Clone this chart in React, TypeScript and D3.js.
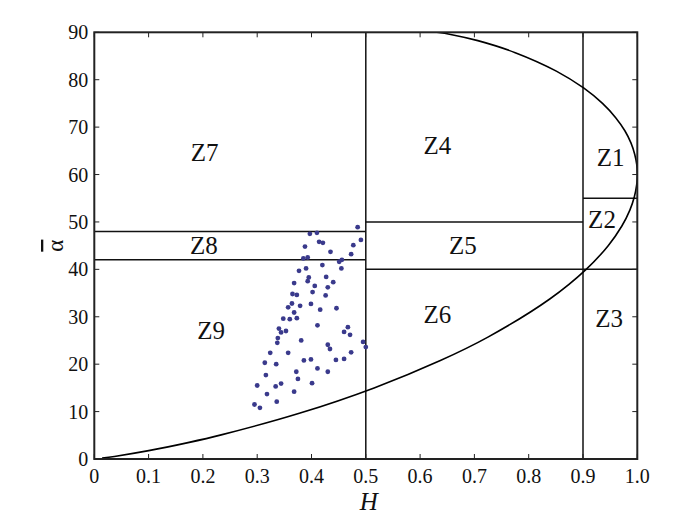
import React from "react";
import * as d3 from "d3";

const xTicks = [0, 0.1, 0.2, 0.3, 0.4, 0.5, 0.6, 0.7, 0.8, 0.9, 1.0];
const xTickLabels = ["0", "0.1", "0.2", "0.3", "0.4", "0.5", "0.6", "0.7", "0.8", "0.9", "1.0"];
const yTicks = [0, 10, 20, 30, 40, 50, 60, 70, 80, 90];

// feasible-region boundary (H, alpha)
const boundary: [number, number][] = [
  [0.0144, 0.18], [0.0371, 0.54], [0.1002, 1.76], [0.1727, 3.46], [0.2337, 5.09],
  [0.3776, 9.64], [0.5153, 15.0], [0.6373, 20.77], [0.7249, 25.71], [0.8388, 33.75],
  [0.9058, 40.0], [0.9464, 45.0], [0.9713, 49.09], [0.9863, 52.5], [0.9947, 55.38],
  [0.9989, 57.86], [0.9997, 58.97], [1.0, 60], [0.999, 62.07], [0.9952, 64.29],
  [0.9883, 66.67], [0.9771, 69.23], [0.9602, 72], [0.9359, 75], [0.9011, 78.26],
  [0.8509, 81.82], [0.7752, 85.71], [0.7063, 88.24], [0.6563, 89.55], [0.6309, 90],
];

// zone boundaries: [x1, y1, x2, y2]
const zoneLines: [number, number, number, number][] = [
  [0.5, 0, 0.5, 90],
  [0.9, 0, 0.9, 90],
  [0, 48, 0.5, 48],
  [0, 42, 0.5, 42],
  [0.5, 50, 0.9, 50],
  [0.5, 40, 1.0, 40],
  [0.9, 55, 1.0, 55],
];

const zoneNames = ["Z1", "Z2", "Z3", "Z4", "Z5", "Z6", "Z7", "Z8", "Z9"];
const zoneH = [0.951, 0.935, 0.948, 0.632, 0.679, 0.632, 0.203, 0.202, 0.215];
const zoneA = [61.8, 48.7, 27.9, 64.3, 43.2, 28.7, 62.9, 43.2, 25.3];

const pointsH = [
  0.485, 0.397, 0.410, 0.491, 0.414, 0.421, 0.388, 0.477, 0.435, 0.473,
  0.385, 0.393, 0.456, 0.451, 0.420, 0.390, 0.455, 0.377, 0.427, 0.395,
  0.393, 0.440, 0.368, 0.406, 0.430, 0.402, 0.365, 0.373, 0.426, 0.364,
  0.399, 0.379, 0.357, 0.446, 0.416, 0.368, 0.348, 0.360, 0.373, 0.411,
  0.467, 0.340, 0.344, 0.353, 0.460, 0.471, 0.338, 0.337, 0.381, 0.495,
  0.500, 0.430, 0.434, 0.324, 0.357, 0.473, 0.314, 0.335, 0.386, 0.399,
  0.445, 0.460, 0.411, 0.372, 0.430, 0.316, 0.375, 0.300, 0.334, 0.344,
  0.401, 0.368, 0.318, 0.336, 0.295, 0.305,
];
const pointsA = [
  48.9, 47.5, 47.7, 46.2, 45.8, 45.6, 44.8, 45.1, 43.7, 43.2,
  42.3, 42.5, 42.0, 41.6, 40.9, 40.2, 40.2, 39.7, 38.4, 38.3,
  37.5, 37.3, 37.1, 36.5, 36.2, 35.2, 34.8, 34.6, 34.5, 32.8,
  32.7, 32.3, 32.0, 31.8, 31.5, 30.9, 29.6, 29.5, 29.7, 28.2,
  27.8, 27.5, 26.7, 27.0, 26.8, 26.2, 25.5, 24.5, 25.0, 24.7,
  23.6, 24.1, 23.2, 22.4, 22.4, 22.5, 20.3, 20.0, 20.8, 21.0,
  20.9, 21.1, 19.1, 18.4, 18.4, 17.7, 16.9, 15.5, 15.3, 15.9,
  16.0, 14.2, 13.7, 12.1, 11.5, 10.8,
];

const W = 700;
const H = 524;
const left = 94.3;
const top = 32.3;
const right = 637.3;
const bottom = 459;
const FONT = '"Liberation Serif", "DejaVu Serif", serif';

export default function App() {
  const x = d3.scaleLinear().domain([0, 1]).range([left, right]);
  const y = d3.scaleLinear().domain([0, 90]).range([bottom, top]);
  const line = d3
    .line<[number, number]>()
    .x((d) => x(d[0]))
    .y((d) => y(d[1]))
    .curve(d3.curveCatmullRom.alpha(0.5));
  const tickLen = 5;
  const txt = { fontFamily: FONT };

  return (
    <svg
      width={W}
      height={H}
      style={{ position: "absolute", left: 0, top: 0, background: "#fff", fontFamily: FONT }}
    >
      <defs>
        <clipPath id="plotClip">
          <rect x={left} y={top} width={right - left} height={bottom - top} />
        </clipPath>
      </defs>
      <rect x={0} y={0} width={W} height={H} fill="#fff" />

      {/* zone lines */}
      {zoneLines.map((l, i) => (
        <line
          key={"z" + i}
          x1={x(l[0])}
          y1={y(l[1])}
          x2={x(l[2])}
          y2={y(l[3])}
          stroke="#111"
          strokeWidth={1.5}
        />
      ))}

      {/* boundary curve */}
      <path
        d={line(boundary) || ""}
        fill="none"
        stroke="#000"
        strokeWidth={1.6}
        clipPath="url(#plotClip)"
      />

      {/* scatter */}
      {pointsH.map((h, i) => (
        <circle key={"p" + i} cx={x(h)} cy={y(pointsA[i])} r={2.4} fill="#3a3a8c" />
      ))}

      {/* zone labels */}
      {zoneNames.map((n, i) => (
        <text
          key={n}
          x={x(zoneH[i])}
          y={y(zoneA[i])}
          textAnchor="middle"
          fontSize={25}
          fill="#111"
          style={txt}
        >
          {n}
        </text>
      ))}

      {/* frame */}
      <rect
        x={left}
        y={top}
        width={right - left}
        height={bottom - top}
        fill="none"
        stroke="#222"
        strokeWidth={2}
      />

      {/* x ticks */}
      {xTicks.map((t, i) => (
        <g key={"xt" + i}>
          <line x1={x(t)} x2={x(t)} y1={bottom} y2={bottom - tickLen} stroke="#222" strokeWidth={1} />
          <line x1={x(t)} x2={x(t)} y1={top} y2={top + tickLen} stroke="#222" strokeWidth={1} />
          <text x={x(t)} y={bottom + 24} textAnchor="middle" fontSize={20} fill="#111" style={txt}>
            {xTickLabels[i]}
          </text>
        </g>
      ))}

      {/* y ticks */}
      {yTicks.map((t, i) => (
        <g key={"yt" + i}>
          <line x1={left} x2={left + tickLen} y1={y(t)} y2={y(t)} stroke="#222" strokeWidth={1} />
          <line x1={right} x2={right - tickLen} y1={y(t)} y2={y(t)} stroke="#222" strokeWidth={1} />
          <text x={left - 6} y={y(t) + 7} textAnchor="end" fontSize={20} fill="#111" style={txt}>
            {t}
          </text>
        </g>
      ))}

      {/* axis labels */}
      <text
        x={(left + right) / 2 + 3}
        y={510}
        textAnchor="middle"
        fontSize={25}
        fontStyle="italic"
        fill="#111"
        style={txt}
      >
        H
      </text>
      <text
        transform={`translate(63, ${(top + bottom) / 2}) rotate(-90)`}
        textAnchor="middle"
        fontSize={23}
        fill="#111"
        style={{ fontFamily: FONT, textDecoration: "overline" }}
      >
        α
      </text>
    </svg>
  );
}
